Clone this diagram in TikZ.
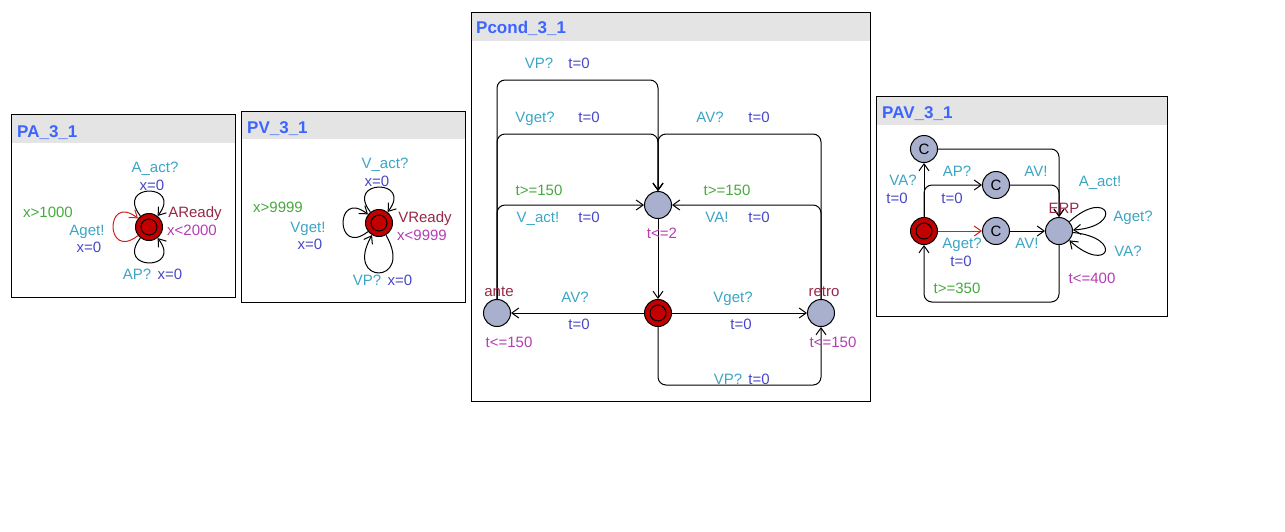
\documentclass[tikz,border=0pt]{standalone}
\usepackage{fontspec}
\setmainfont{Liberation Sans}
\usetikzlibrary{arrows.meta}

\definecolor{cgrd}{RGB}{70,170,60}
\definecolor{csyn}{RGB}{60,165,195}
\definecolor{cupd}{RGB}{70,70,200}
\definecolor{cinv}{RGB}{180,60,180}
\definecolor{cname}{RGB}{150,40,70}
\definecolor{ctitle}{RGB}{60,100,255}
\definecolor{chead}{RGB}{228,228,228}
\definecolor{cloc}{RGB}{168,176,206}
\definecolor{cinit}{RGB}{195,0,0}
\definecolor{cred}{RGB}{210,30,30}

\begin{document}
\begin{tikzpicture}[x=1pt,y=1pt,font=\fontsize{15}{18}\selectfont,
  lbl/.style={inner sep=0pt,anchor=base},
  grd/.style={lbl,text=cgrd},
  syn/.style={lbl,text=csyn},
  upd/.style={lbl,text=cupd},
  inv/.style={lbl,text=cinv},
  lname/.style={lbl,text=cname},
  title/.style={inner sep=0pt,anchor=base west,text=ctitle,font=\fontsize{17}{20}\selectfont\bfseries},
  loc/.style={circle,draw=black,line width=1pt,fill=cloc,minimum size=27pt,inner sep=0pt},
  initloc/.style={loc,fill=cinit,path picture={\draw[line width=1pt] (path picture bounding box.center) circle (8pt);}},
  edge/.style={draw=black,line width=1pt,rounded corners=8pt,-{Straight Barb[length=7pt,width=10pt]}},
  panel/.style={draw=black,line width=1pt}]
\useasboundingbox (0,0) rectangle (1285,-531);

% PA_3_1
\fill[chead] (11,-114) rectangle (235,-143);
\draw[panel] (11,-114) rectangle (235,-297);
\node[title] (paT) at (17,-137) {PA\_3\_1};
\node[initloc] (pa) at (149,-227) {};
\draw[edge] (pa) .. controls +(128:56) and +(52:56) .. (pa);
\draw[edge,draw=cred] (pa) .. controls +(218:56) and +(142:56) .. (pa);
\draw[edge] (pa) .. controls +(232:56) and +(308:56) .. (pa);
\node[syn] (pa1) at (155,-172) {A\_act?};
\node[upd] (pa2) at (152,-190) {x=0};
\node[lname] (pa3) at (195,-217) {AReady};
\node[inv] (pa4) at (192,-235) {x<2000};
\node[grd] (pa5) at (48,-217) {x>1000};
\node[syn] (pa6) at (87,-235) {Aget!};
\node[upd] (pa7) at (89,-252) {x=0};
\node[syn] (pa8) at (137,-279) {AP?};
\node[upd] (pa9) at (170,-279) {x=0};

% PV_3_1
\fill[chead] (241,-111) rectangle (465,-139);
\draw[panel] (241,-111) rectangle (465,-302);
\node[title] (pvT) at (247,-133) {PV\_3\_1};
\node[initloc] (pv) at (379,-223) {};
\draw[edge] (pv) .. controls +(128:56) and +(52:56) .. (pv);
\draw[edge] (pv) .. controls +(218:56) and +(142:56) .. (pv);
\draw[edge] (pv) .. controls +(300:72) and +(240:72) .. (pv);
\node[syn] (pv1) at (385,-168) {V\_act?};
\node[upd] (pv2) at (377,-186) {x=0};
\node[lname] (pv3) at (425,-222) {VReady};
\node[inv] (pv4) at (422,-240) {x<9999};
\node[grd] (pv5) at (278,-212) {x>9999};
\node[syn] (pv6) at (308,-232) {Vget!};
\node[upd] (pv7) at (310,-249) {x=0};
\node[syn] (pv8) at (367,-285) {VP?};
\node[upd] (pv9) at (400,-285) {x=0};

% Pcond_3_1
\fill[chead] (471,-12) rectangle (870,-41);
\draw[panel] (471,-12) rectangle (870,-401);
\node[title] (pcT) at (476,-33) {Pcond\_3\_1};
\node[loc] (wait) at (658,-205) {};
\node[initloc] (idle) at (658,-313) {};
\node[loc] (ante) at (497,-313) {};
\node[loc] (retro) at (821,-313) {};
\coordinate (kvp) at (658,-80);
\coordinate (kget) at (658,-134);
\coordinate (kbot) at (740,-385);
\draw[edge] (ante) |- (kvp) -- (wait);
\draw[edge] (ante) |- (kget) -- (wait);
\draw[edge] (ante) |- (wait);
\draw[edge] (retro) |- (kget) -- (wait);
\draw[edge] (retro) |- (wait);
\draw[edge] (wait) -- (idle);
\draw[edge] (idle) -- (ante);
\draw[edge] (idle) -- (retro);
\draw[edge] (idle) |- (kbot) -| (retro);
\node[syn] (pc1) at (539,-68) {VP?};
\node[upd] (pc2) at (579,-68) {t=0};
\node[syn] (pc3) at (535,-122) {Vget?};
\node[upd] (pc4) at (589,-122) {t=0};
\node[syn] (pc5) at (710,-122) {AV?};
\node[upd] (pc6) at (759,-122) {t=0};
\node[grd] (pc7) at (539,-195) {t>=150};
\node[grd] (pc8) at (727,-195) {t>=150};
\node[syn] (pc9) at (538,-222) {V\_act!};
\node[upd] (pc10) at (589,-222) {t=0};
\node[syn] (pc11) at (717,-222) {VA!};
\node[upd] (pc12) at (759,-222) {t=0};
\node[inv] (pc13) at (662,-238) {t<=2};
\node[lname] (pc14) at (499,-296) {ante};
\node[inv] (pc15) at (509,-347) {t<=150};
\node[lname] (pc16) at (824,-296) {retro};
\node[inv] (pc17) at (833,-347) {t<=150};
\node[syn] (pc18) at (575,-302) {AV?};
\node[upd] (pc19) at (579,-329) {t=0};
\node[syn] (pc20) at (733,-302) {Vget?};
\node[upd] (pc21) at (741,-329) {t=0};
\node[syn] (pc22) at (728,-384) {VP?};
\node[upd] (pc23) at (759,-384) {t=0};

% PAV_3_1
\fill[chead] (876,-96) rectangle (1167,-125);
\draw[panel] (876,-96) rectangle (1167,-316);
\node[title] (pavT) at (882,-118) {PAV\_3\_1};
\node[initloc] (avi) at (924,-231) {};
\node[loc] (avc1) at (924,-149) {C};
\node[loc] (avc2) at (996,-185) {C};
\node[loc] (avc3) at (996,-231) {C};
\node[loc] (erp) at (1059,-231) {};
\coordinate (kav) at (990,-302);
\draw[edge] (avi) -- (avc1);
\draw[edge] (avi) |- (avc2);
\draw[edge,draw=cred] (avi) -- (avc3);
\draw[edge] (avc3) -- (erp);
\draw[edge] (avc2) -| (erp);
\draw[edge] (avc1) -| (erp);
\draw[edge] (erp) |- (kav) -| (avi);
\draw[edge] (erp) .. controls +(42:66) and +(4:66) .. (erp);
\draw[edge] (erp) .. controls +(-6:66) and +(-42:66) .. (erp);
\node[lname] (av1) at (1064,-213) {ERP};
\node[inv] (av2) at (1092,-283) {t<=400};
\node[syn] (av3) at (903,-185) {VA?};
\node[upd] (av4) at (897,-203) {t=0};
\node[syn] (av5) at (957,-176) {AP?};
\node[upd] (av6) at (952,-203) {t=0};
\node[syn] (av7) at (1036,-176) {AV!};
\node[syn] (av8) at (1100,-186) {A\_act!};
\node[syn] (av9) at (1133,-221) {Aget?};
\node[syn] (av10) at (1128,-256) {VA?};
\node[syn] (av11) at (962,-248) {Aget?};
\node[upd] (av12) at (961,-266) {t=0};
\node[syn] (av13) at (1027,-248) {AV!};
\node[grd] (av14) at (957,-293) {t>=350};
\end{tikzpicture}
\end{document}
